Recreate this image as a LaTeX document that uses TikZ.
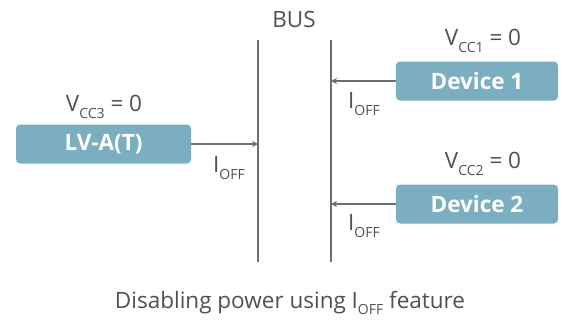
\documentclass[tikz,border=0pt]{standalone}
\usepackage{fontspec}
\setmainfont{Open Sans}
\usetikzlibrary{positioning,arrows.meta}
\definecolor{boxblue}{HTML}{7BAEC0}
\definecolor{wiregray}{HTML}{6E6E6E}
\definecolor{txtgray}{HTML}{505050}
\newcommand{\lowidx}[1]{\raisebox{-0.55ex}{\fontsize{14}{14}\selectfont #1}}
\tikzset{
    device/.style={fill=boxblue, rounded corners=4pt, minimum width=162pt, minimum height=39pt, inner sep=0pt, text=white, font=\fontsize{22.5}{26}\selectfont\bfseries},
    lbl/.style={text=txtgray, font=\fontsize{22.5}{26}\selectfont, inner sep=0pt},
    wire/.style={draw=wiregray, line width=1.4pt},
    feed/.style={draw=wiregray, line width=1.4pt, -{Stealth[length=6pt,width=6pt]}}
}
\begin{document}
\begin{tikzpicture}[x=1pt,y=-1pt]
    \useasboundingbox (0,0) rectangle (571,325);
    % bus lines
    \coordinate (busLtop) at (258,40);
    \coordinate (busLbot) at (258,262);
    \coordinate (busRtop) at (331,40);
    \coordinate (busRbot) at (331,262);
    \draw[wire] (busLtop) -- (busLbot);
    \draw[wire] (busRtop) -- (busRbot);
    \node[lbl] (bus) at (294,19) {BUS};

    % devices
    \node[device] (dev1) at (477,81) {Device 1};
    \node[device] (dev2) at (477,204) {Device 2};
    \node[device, minimum width=175pt] (lva) at (103.5,144) {LV-A(T)};
    \node[lbl] (vcc1) at (483,41) {V\lowidx{CC1} = 0};
    \node[lbl] (vcc2) at (483,164) {V\lowidx{CC2} = 0};
    \node[lbl] (vcc3) at (104,107) {V\lowidx{CC3} = 0};

    % off currents
    \coordinate (hit1) at (dev1.west -| busRtop);
    \coordinate (hit2) at (dev2.west -| busRtop);
    \coordinate (hit3) at (lva.east -| busLtop);
    \draw[feed] (dev1.west) -- (hit1);
    \draw[feed] (dev2.west) -- (hit2);
    \draw[feed] (lva.east) -- (hit3);
    \node[lbl] (ioff1) at (364,104) {I\lowidx{OFF}};
    \node[lbl] (ioff2) at (364,226) {I\lowidx{OFF}};
    \node[lbl] (ioff3) at (229,168) {I\lowidx{OFF}};

    \node[lbl] (caption) at (290,303) {Disabling power using I\lowidx{OFF} feature};
\end{tikzpicture}
\end{document}
